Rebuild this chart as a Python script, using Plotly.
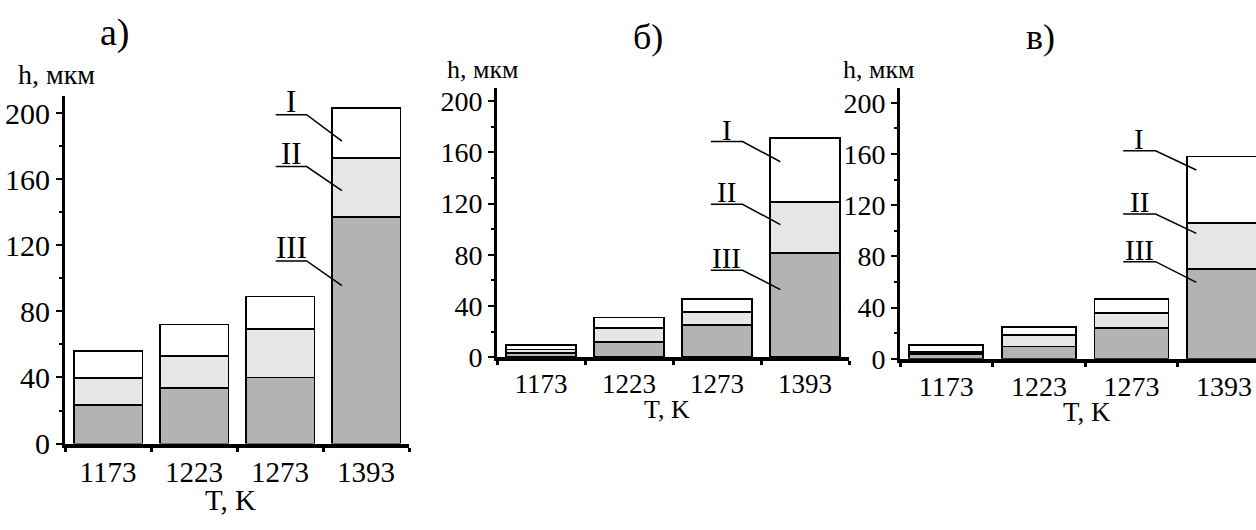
import plotly.graph_objects as go

# Temperatures on the category axis
categories = ["1173", "1223", "1273", "1393"]
y_ticks = [0, 40, 80, 120, 160, 200]

# Layer thicknesses h (мкм): III at the bottom, II in the middle, I on top
a_III = [23.5, 33.5, 40.0, 137.0]
a_II = [16.0, 19.5, 29.5, 36.0]
a_I = [16.5, 19.0, 19.5, 30.0]

b_III = [3.5, 11.5, 25.0, 81.5]
b_II = [2.5, 11.0, 10.0, 39.5]
b_I = [3.3, 8.5, 10.5, 50.0]

c_III = [4.0, 9.5, 24.0, 70.0]
c_II = [1.2, 8.8, 12.0, 36.0]
c_I = [5.3, 6.7, 10.5, 52.0]

layer_names = ["III", "II", "I"]
layer_colors = ["#b3b3b3", "#e6e6e6", "#ffffff"]

FONT = "Liberation Serif"
W, H = 1256, 530

panels = [
    dict(layers=[a_III, a_II, a_I], xa="x", ya="y",
         xdom=[65 / W, 409 / W], xrange=[-0.5, 3.5],
         ydom=[(H - 458) / H, (H - 98) / H], yrange=[0, 210],
         tick_size=30, cat_size=29, lab_size=31,
         # underline start, knee, leader end x; (underline y, leader end y) per label
         lead_x=(1.95, 2.31, 2.72),
         lead_y={"I": (199.0, 183.0), "II": (167.6, 153.0), "III": (110.5, 95.5)}),
    dict(layers=[b_III, b_II, b_I], xa="x2", ya="y2",
         xdom=[497 / W, 849 / W], xrange=[-0.5, 3.5],
         ydom=[(H - 368.3) / H, (H - 89.3) / H], yrange=[0, 210.3],
         tick_size=28, cat_size=27, lab_size=29,
         lead_x=(1.93, 2.29, 2.72),
         lead_y={"I": (168.5, 152.7), "II": (119.5, 103.6), "III": (67.9, 52.8)}),
    dict(layers=[c_III, c_II, c_I], xa="x3", ya="y3",
         xdom=[900 / W, 1.0], xrange=[-0.5, -0.5 + 356 / 92.6],
         ydom=[(H - 370) / H, (H - 89.3) / H], yrange=[0, 211.4],
         tick_size=28, cat_size=28, lab_size=29,
         lead_x=(1.91, 2.26, 2.70),
         lead_y={"I": (162.4, 147.4), "II": (113.0, 97.9), "III": (75.8, 59.7)}),
]

fig = go.Figure()
shapes = []
annotations = []
layout = {}

for k, p in enumerate(panels):
    for vals, name, col in zip(p["layers"], layer_names, layer_colors):
        fig.add_trace(go.Bar(
            x=categories, y=vals, name=name, width=0.8,
            marker=dict(color=col, line=dict(color="black", width=1.8)),
            xaxis=p["xa"], yaxis=p["ya"], showlegend=False,
            hoverinfo="skip",
        ))

    sfx = "" if k == 0 else str(k + 1)
    layout["xaxis" + sfx] = dict(
        domain=p["xdom"], range=p["xrange"], type="category",
        anchor=p["ya"], showline=True, linecolor="black", linewidth=4,
        ticks="outside", tickson="boundaries", ticklen=4, tickwidth=3,
        tickcolor="black", showgrid=False, zeroline=False,
        tickfont=dict(family=FONT, size=p["cat_size"], color="black"),
        fixedrange=True,
    )
    layout["yaxis" + sfx] = dict(
        domain=p["ydom"], range=p["yrange"], anchor=p["xa"],
        showline=True, linecolor="black", linewidth=3,
        tickvals=y_ticks, ticks="outside", ticklen=6, tickwidth=2,
        tickcolor="black", showgrid=False, zeroline=False,
        tickfont=dict(family=FONT, size=p["tick_size"], color="black"),
        minor=dict(tick0=20, dtick=40, ticks="outside", ticklen=3,
                   tickwidth=2, tickcolor="black"),
        fixedrange=True,
    )

    x0, x1, x2 = p["lead_x"]
    for name, (yu, ye) in p["lead_y"].items():
        shapes.append(dict(
            type="path", xref=p["xa"], yref=p["ya"],
            path=f"M {x0},{yu} L {x1},{yu} L {x2},{ye}",
            line=dict(color="black", width=1.5),
        ))
        annotations.append(dict(
            text=name, xref=p["xa"], yref=p["ya"],
            x=(x0 + x1) / 2, y=yu, xanchor="center", yanchor="bottom",
            yshift=-6, showarrow=False,
            font=dict(family=FONT, size=p["lab_size"], color="black"),
        ))

# Panel letters and axis titles (paper coordinates)
def paper_text(text, px, py, size, xanchor="center"):
    annotations.append(dict(
        text=text, xref="paper", yref="paper", x=px / W, y=1 - py / H,
        xanchor=xanchor, yanchor="middle", showarrow=False,
        font=dict(family=FONT, size=size, color="black"),
    ))

paper_text("а)", 115, 32, 38)
paper_text("б)", 648, 36, 36)
paper_text("в)", 1040, 36, 36)

paper_text("h, мкм", 16, 75, 28, xanchor="left")
paper_text("h, мкм", 445, 70, 26, xanchor="left")
paper_text("h, мкм", 841, 70, 26, xanchor="left")

paper_text("T, K", 231, 516, 29)
paper_text("T, K", 667, 423, 26)
paper_text("T, K", 1087, 425, 27)

fig.update_layout(
    **layout,
    barmode="stack", bargap=0.2,
    width=W, height=H,
    margin=dict(l=0, r=0, t=0, b=0),
    paper_bgcolor="white", plot_bgcolor="white",
    showlegend=False,
    shapes=shapes, annotations=annotations,
)

fig.write_html("out.html")
